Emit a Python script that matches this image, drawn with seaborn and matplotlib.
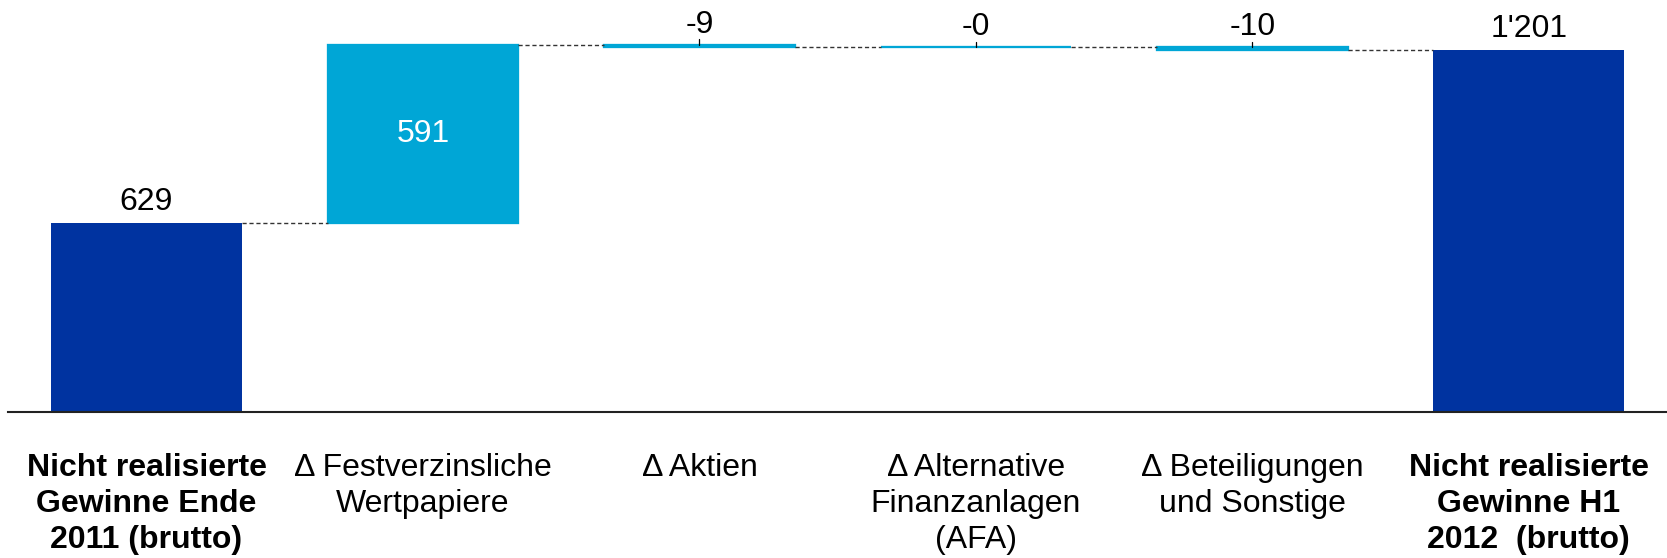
import numpy as np
import pandas as pd
import matplotlib
matplotlib.use("Agg")
import matplotlib.pyplot as plt
import seaborn as sns

# Waterfall data (CHF Mio.)
categories = [
    "Nicht realisierte\nGewinne Ende\n2011 (brutto)",
    "\u0394 Festverzinsliche\nWertpapiere",
    "\u0394 Aktien",
    "\u0394 Alternative\nFinanzanlagen\n(AFA)",
    "\u0394 Beteiligungen\nund Sonstige",
    "Nicht realisierte\nGewinne H1\n2012  (brutto)",
]
values = [629, 591, -9, -0.4, -10, 1201]
value_labels = ["629", "591", "-9", "-0", "-10", "1'201"]
is_total = [True, False, False, False, False, True]

DARK_BLUE = "#0033A0"
LIGHT_BLUE = "#00A6D6"
FS = 23

# Running totals: each delta bar floats between previous and new level
tops, bases, levels = [], [], []
running = 0.0
for v, tot in zip(values, is_total):
    if tot:
        bases.append(0.0)
        tops.append(v)
        running = v
    else:
        new = running + v
        bases.append(min(running, new))
        tops.append(max(running, new))
        running = new
    levels.append(running)

df = pd.DataFrame({"cat": categories,
                   "height": np.array(tops) - np.array(bases)})

sns.set_theme(style="white")
plt.rcParams["font.family"] = ["Liberation Sans", "DejaVu Sans"]

fig = plt.figure(figsize=(16.67, 5.58), dpi=100)
ax = fig.add_axes([0.005, 0.261, 0.995, 0.739])

sns.barplot(data=df, x="cat", y="height", order=categories,
            bottom=np.array(bases), color=LIGHT_BLUE, width=0.69,
            saturation=1, ax=ax, zorder=2)
for patch, tot in zip(ax.patches, is_total):
    c = DARK_BLUE if tot else LIGHT_BLUE
    patch.set_facecolor(c)
    patch.set_edgecolor(c)
    patch.set_linewidth(0 if tot else 1.65)

hw = 0.69 / 2
# dashed connectors between consecutive bars
for i in range(len(values) - 1):
    ax.plot([i + hw, i + 1 - hw], [levels[i], levels[i]],
            ls=(0, (3, 2)), lw=1.0, color="#333333", zorder=3)

# value labels
for i, (lab, tot) in enumerate(zip(value_labels, is_total)):
    if i == 1:
        ax.text(i, (tops[i] + bases[i]) / 2, lab, ha="center",
                va="center", color="white", fontsize=FS)
    elif tot:
        ax.text(i, tops[i] + 43, lab, ha="center", va="baseline",
                color="black", fontsize=FS)
    else:
        ax.plot([i, i], [tops[i], tops[i] + 17], color="black", lw=0.9,
                zorder=4)
        ax.text(i, tops[i] + 40, lab, ha="center", va="baseline",
                color="black", fontsize=FS)

ax.set_xlim(-0.5, 5.5)
ax.set_ylim(0, 1368)
ax.set_xlabel("")
ax.set_ylabel("")
ax.set_yticks([])
for s in ["top", "right", "left"]:
    ax.spines[s].set_visible(False)
ax.spines["bottom"].set_color("#222222")
ax.spines["bottom"].set_linewidth(1.5)
ax.spines["bottom"].set_zorder(4)

ax.tick_params(axis="x", length=0, pad=29)
ax.set_xticks(range(len(categories)))
ax.set_xticklabels(categories, fontsize=FS, linespacing=1.27, color="black")
for lbl, tot in zip(ax.get_xticklabels(), is_total):
    lbl.set_ha("center")
    lbl.set_va("top")
    if tot:
        lbl.set_fontweight("bold")

fig.savefig("out.png", dpi=100, facecolor="white")
